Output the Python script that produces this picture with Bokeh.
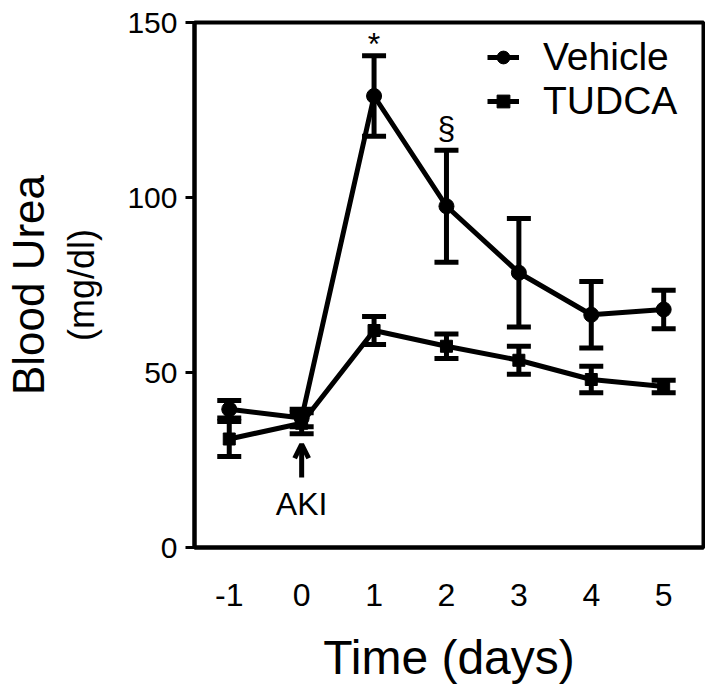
from bokeh.plotting import figure
from bokeh.models import (Range1d, LinearAxis, FixedTicker, Whisker, TeeHead,
                          ColumnDataSource, Legend, LegendItem, Label, Arrow, OpenHead)
from bokeh.core.properties import value
from bokeh.embed import file_html
from bokeh.resources import INLINE

# ---- data ----
days = [-1, 0, 1, 2, 3, 4, 5]
vehicle_mean = [39.5, 37.0, 129.0, 97.5, 78.5, 66.5, 68.0]
vehicle_sem = [2.5, 2.5, 11.5, 16.0, 15.5, 9.5, 5.5]
tudca_mean = [31.0, 35.5, 62.0, 57.5, 53.5, 48.0, 46.0]
tudca_sem = [5.0, 3.0, 4.0, 3.5, 4.0, 3.8, 1.8]
y_ticks = [0, 50, 100, 150]
sig_marks = ["*", "§"]
sig_days = [1, 2]
aki_day = 0

FONT = "Liberation Sans"

def src(mean, sem):
    return ColumnDataSource(dict(
        x=days, y=mean,
        lo=[m - s for m, s in zip(mean, sem)],
        hi=[m + s for m, s in zip(mean, sem)],
    ))

veh = src(vehicle_mean, vehicle_sem)
tud = src(tudca_mean, tudca_sem)

p = figure(width=705, height=688, x_range=Range1d(-1.48, 5.55), y_range=Range1d(0, 150),
           output_backend="svg", toolbar_location=None,
           min_border_left=190, min_border_right=2, min_border_top=22, min_border_bottom=141)
p.xgrid.visible = False
p.ygrid.visible = False
p.outline_line_color = "black"
p.outline_line_width = 4
p.outline_line_alpha = 1.0

# x axis
xa = p.xaxis[0]
xa.ticker = FixedTicker(ticks=days)
xa.major_label_overrides = {d: str(d) for d in days}
xa.major_tick_out = 0
xa.major_tick_in = 0
xa.minor_tick_out = 0
xa.minor_tick_in = 0
xa.axis_line_width = 4
xa.major_label_text_font = FONT
xa.major_label_text_font_size = "32px"
xa.major_label_text_color = "black"
xa.major_label_standoff = 36
xa.axis_label = "Time (days)"
xa.axis_label_text_font = FONT
xa.axis_label_text_font_size = "48px"
xa.axis_label_text_font_style = "normal"
xa.axis_label_text_color = "black"
xa.axis_label_standoff = 22

# y axis
ya = p.yaxis[0]
ya.ticker = FixedTicker(ticks=y_ticks)
ya.major_tick_out = 9
ya.major_tick_in = 0
ya.minor_tick_out = 0
ya.minor_tick_in = 0
ya.major_tick_line_width = 3
ya.axis_line_width = 4
ya.major_label_text_font = FONT
ya.major_label_text_font_size = "30px"
ya.major_label_text_color = "black"
ya.major_label_standoff = 8
ya.axis_label = "(mg/dl)"
ya.axis_label_text_font = FONT
ya.axis_label_text_font_size = "36px"
ya.axis_label_text_font_style = "normal"
ya.axis_label_text_color = "black"
ya.axis_label_standoff = 22

outer = LinearAxis(ticker=FixedTicker(ticks=[]), axis_line_color=None,
                   major_tick_line_color=None, minor_tick_line_color=None,
                   major_label_text_font_size="0px",
                   axis_label="Blood Urea", axis_label_text_font=FONT,
                   axis_label_text_font_size="44px", axis_label_text_font_style="normal",
                   axis_label_text_color="black", axis_label_standoff=6)
p.add_layout(outer, "left")

# error bars
for s in (veh, tud):
    w = Whisker(source=s, base="x", lower="lo", upper="hi", line_width=5, line_color="black",
                upper_head=TeeHead(size=24, line_width=5, line_color="black"),
                lower_head=TeeHead(size=24, line_width=5, line_color="black"))
    p.add_layout(w)

# lines + markers
l1 = p.line("x", "y", source=veh, line_width=5, line_color="black")
m1 = p.scatter("x", "y", source=veh, marker="circle", size=15, color="black")
l2 = p.line("x", "y", source=tud, line_width=5, line_color="black")
m2 = p.scatter("x", "y", source=tud, marker="square", size=12, color="black")

legend = Legend(items=[LegendItem(label="Vehicle", renderers=[l1, m1]),
                       LegendItem(label="TUDCA", renderers=[l2, m2])],
                location=(293, 424), border_line_color=None, background_fill_alpha=0,
                label_text_font=FONT, label_text_font_size="39px", label_text_color="black",
                glyph_width=32, glyph_height=36, label_height=36, spacing=-9,
                padding=0, margin=0, label_standoff=24)
p.add_layout(legend)

# significance marks
sig_src = ColumnDataSource(dict(
    x=sig_days, text=sig_marks, off=[-12, -22],
    y=[vehicle_mean[days.index(d)] + vehicle_sem[days.index(d)] for d in sig_days]))
p.text("x", "y", text="text", source=sig_src, text_font=value(FONT), text_font_size="32px",
       text_align="center", text_baseline="middle", y_offset="off", text_color="black")

# AKI arrow
p.add_layout(Arrow(end=OpenHead(size=14, line_width=5, line_color="black"),
                   x_start=aki_day, y_start=20, x_end=aki_day, y_end=29.5,
                   line_width=5, line_color="black"))
p.add_layout(Label(x=aki_day, y=12.5, text="AKI", text_font=FONT, text_font_size="32px",
                   text_align="center", text_baseline="middle", text_color="black"))

open("out.html", "w").write(file_html(p, INLINE))
